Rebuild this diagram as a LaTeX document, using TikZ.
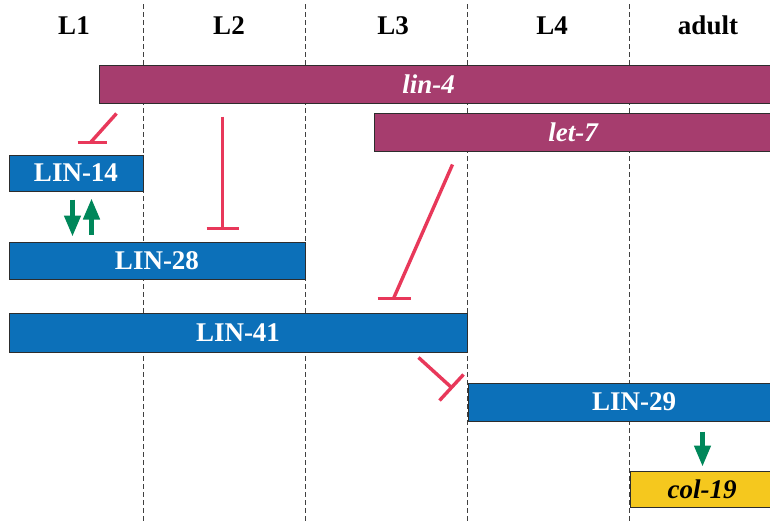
\documentclass[tikz,border=0pt]{standalone}
\usepackage{fontspec}
\setmainfont{Liberation Serif}
\usetikzlibrary{calc,arrows.meta}

\definecolor{mirna}{RGB}{166,61,110}
\definecolor{protein}{RGB}{12,112,185}
\definecolor{target}{RGB}{245,200,30}
\definecolor{repress}{RGB}{232,56,90}
\definecolor{activate}{RGB}{0,135,90}
\definecolor{edge}{RGB}{45,45,45}

\tikzset{
  genebar/.style={draw=edge, line width=1pt, rectangle, inner sep=0pt,
    font=\fontsize{27}{27}\selectfont\bfseries},
  mirnabar/.style={genebar, fill=mirna, text=white, font=\fontsize{27}{27}\selectfont\bfseries\itshape},
  protbar/.style={genebar, fill=protein, text=white},
  targetbar/.style={genebar, fill=target, text=black, font=\fontsize{27}{27}\selectfont\bfseries\itshape},
  stagelabel/.style={anchor=base, font=\fontsize{27}{27}\selectfont\bfseries},
  stageline/.style={draw=black!75, line width=0.9pt, dash pattern=on 4.5pt off 3.5pt},
  inhib/.style={draw=repress, line width=3.4pt},
  promote/.style={draw=activate, line width=4.5pt, -{Triangle[width=16pt,length=21pt]}},
}

\begin{document}
\begin{tikzpicture}[x=1pt, y=-1pt]
  \useasboundingbox (0,0) rectangle (770,522);
  \clip (0,0) rectangle (770,522);
  \fill[white] (0,0) rectangle (770,522);

  % larval stage boundaries
  \foreach \sx in {143,305,467,629}
    \draw[stageline] (\sx,4) -- (\sx,522);

  % stage headings
  \node[stagelabel] (sL1) at (74,34) {L1};
  \node[stagelabel] (sL2) at (229,34) {L2};
  \node[stagelabel] (sL3) at (393,34) {L3};
  \node[stagelabel] (sL4) at (552,34) {L4};
  \node[stagelabel] (sAd) at (708,34) {adult};

  % microRNAs
  \node[mirnabar, minimum width=673pt, minimum height=38pt] (lin4) at (435.5,84) {\hspace*{-14pt}lin-4};
  \node[mirnabar, minimum width=398pt, minimum height=38pt] (let7) at (573,132) {let-7};

  % heterochronic proteins
  \node[protbar, minimum width=134pt, minimum height=36pt] (lin14) at (76,173) {LIN-14};
  \node[protbar, minimum width=296pt, minimum height=37pt] (lin28) at (157,260.5) {LIN-28};
  \node[protbar, minimum width=458pt, minimum height=39pt] (lin41) at (238,332.5) {LIN-41};
  \node[protbar, minimum width=332pt, minimum height=38pt] (lin29) at (634,402) {LIN-29};

  % adult collagen target
  \node[targetbar, minimum width=144pt, minimum height=36pt] (col19) at (702,489) {col-19};

  % lin-4 represses LIN-14
  \draw[inhib] ($(lin4.south west)+(18,10)$) -- ($(lin14.north west)+(82,-12)$);
  \draw[inhib] ($(lin14.north west)+(69,-12)$) -- ($(lin14.north west)+(98,-12)$);

  % lin-4 represses LIN-28
  \draw[inhib] ($(lin4.south west)+(124,13)$) -- ($(lin28.north west)+(214,-13)$);
  \draw[inhib] ($(lin28.north west)+(198,-13)$) -- ($(lin28.north west)+(230,-13)$);

  % let-7 represses LIN-41
  \draw[inhib] ($(let7.south west)+(79,13)$) -- ($(lin41.north west)+(385,-14)$);
  \draw[inhib] ($(lin41.north west)+(369,-14)$) -- ($(lin41.north west)+(402,-14)$);

  % LIN-41 represses LIN-29
  \draw[inhib] ($(lin41.south east)+(-49,5)$) -- ($(lin29.north west)+(-16,5)$);
  \draw[inhib] ($(lin29.north west)+(-28,18)$) -- ($(lin29.north west)+(-4,-8)$);

  % LIN-14 / LIN-28 mutual activation
  \draw[promote] ($(lin14.south west)+(64,8)$) -- ($(lin28.north west)+(64,-5)$);
  \draw[promote] ($(lin28.north west)+(83,-7)$) -- ($(lin14.south west)+(83,7)$);

  % LIN-29 activates col-19
  \draw[promote] ($(lin29.south west)+(235,10)$) -- ($(col19.north west)+(73,-4)$);
\end{tikzpicture}
\end{document}
